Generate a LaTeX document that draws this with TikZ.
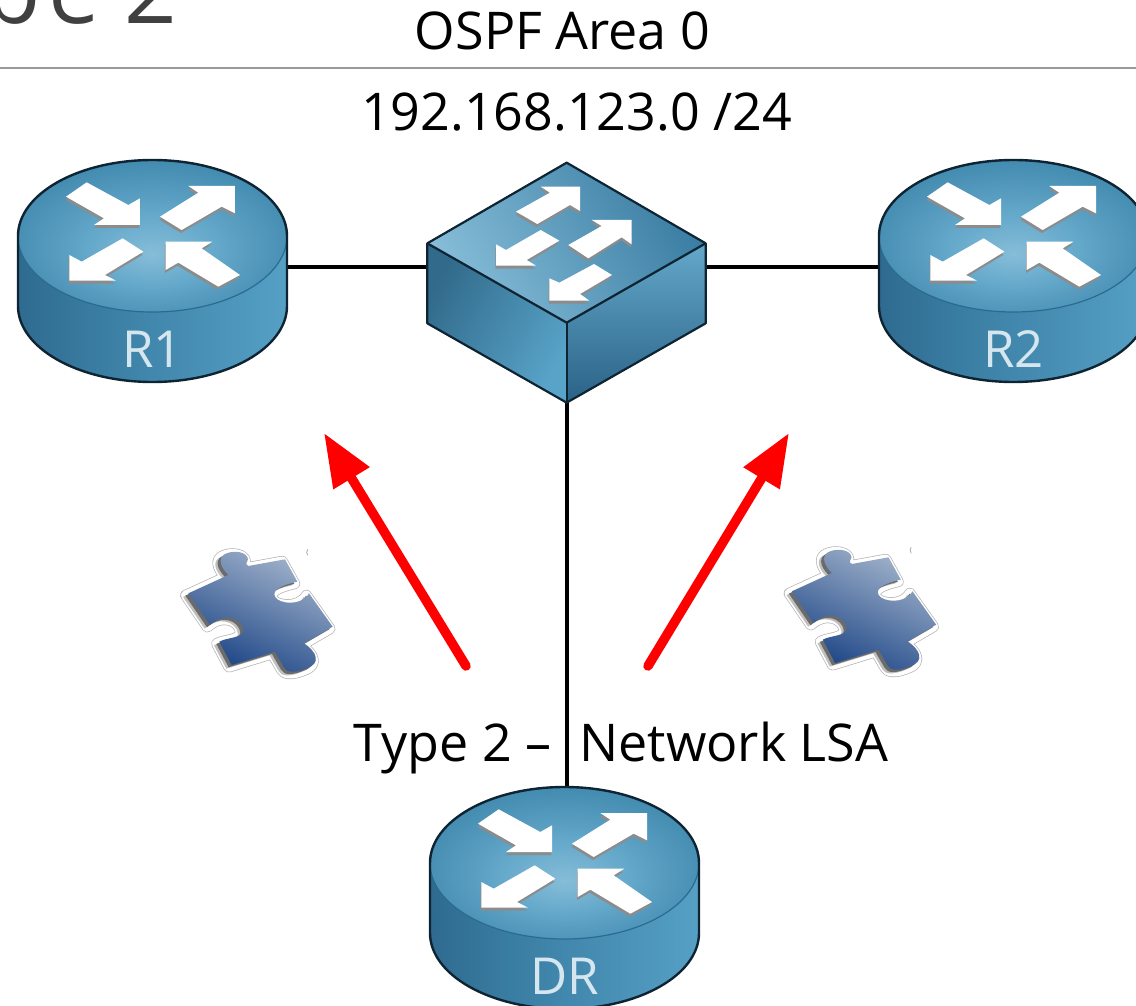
\documentclass[tikz,border=0pt]{standalone}
\usepackage{fontspec}
\setmainfont{Open Sans}
\newfontfamily\titlefont{Open Sans}
\usetikzlibrary{arrows.meta}
\definecolor{rtA}{HTML}{86BDD8}
\definecolor{rtB}{HTML}{64A8CA}
\definecolor{rtC}{HTML}{3E86AC}
\definecolor{rsA}{HTML}{2A6286}
\definecolor{rsB}{HTML}{3A7DA3}
\definecolor{rsC}{HTML}{58A3C8}
\definecolor{rsD}{HTML}{4A94BA}
\definecolor{rsE}{HTML}{2E7297}
\definecolor{edgeDark}{HTML}{0F2433}
\definecolor{edgeBlue}{HTML}{2A6C90}
\definecolor{arrowShade}{HTML}{8C8C8C}
\definecolor{labelLight}{HTML}{D5E6EE}
\definecolor{puzzleLight}{HTML}{A3B4CC}
\definecolor{puzzleDark}{HTML}{1C4586}
\definecolor{titleInk}{HTML}{404040}
\pgfdeclareradialshading{routertop}{\pgfpoint{0bp}{-6bp}}{color(0bp)=(rtA);color(12bp)=(rtB);color(30bp)=(rtC);color(50bp)=(rtC)}
\pgfdeclarehorizontalshading{routerside}{100bp}{color(0bp)=(rsA);color(18bp)=(rsA);color(40bp)=(rsB);color(78bp)=(rsC);color(82bp)=(rsD);color(100bp)=(rsE)}
\tikzset{
  lbl/.style={font=\fontsize{52pt}{52pt}\selectfont,text=black,inner sep=0pt},
  rlabel/.style={font=\fontsize{51pt}{51pt}\selectfont,text=labelLight,inner sep=0pt},
  link/.style={draw=black,line width=3.8pt},
  redarrow/.style={draw=red,line width=9.5pt,line cap=round,-{Triangle[length=53pt,width=40pt,fill=red]}},
  faceedge/.style={draw=edgeDark,line width=2.2pt,line join=round},
  arrowshadow/.style={fill=arrowShade},
  arrowwhite/.style={fill=white},
  placeholder/.style={inner sep=0pt,minimum width=269pt,minimum height=223pt}
}
\newcommand{\flatarrow}[1]{%
  \fill[arrowshadow,shift={(-2,9)}] #1 -- cycle;
  \fill[arrowwhite] #1 -- cycle;}
\newcommand{\routerart}[3]{%
\begin{scope}[shift={(#1,#2)}]
  \shade[shading=routerside]
    (-134.5,0) -- (-134.5,70) .. controls (-134.5,112) and (-74.3,146) .. (0,146)
    .. controls (74.3,146) and (134.5,112) .. (134.5,70) -- (134.5,0) -- cycle;
  \shade[shading=routertop] (0,0) ellipse [x radius=134.5pt,y radius=76pt];
  \draw[edgeBlue,line width=1.2pt] (0,0) ellipse [x radius=134.5pt,y radius=76pt];
  \draw[edgeDark,line width=2.4pt]
    (-134.5,70) .. controls (-134.5,112) and (-74.3,146) .. (0,146)
    .. controls (74.3,146) and (134.5,112) .. (134.5,70) -- (134.5,0)
    .. controls (134.5,-42) and (74.3,-76) .. (0,-76)
    .. controls (-74.3,-76) and (-134.5,-42) .. (-134.5,0) -- cycle;
  \begin{scope}[shift={(-152.5,-86)},x=0.33333pt,y=-0.33333pt]
    \flatarrow{(260,97) -- (198,140) -- (312,205) -- (282,225) -- (420,225) -- (420,145) -- (385,165)}
    \flatarrow{(480,200) -- (545,240) -- (665,170) -- (705,190) -- (705,108) -- (565,108) -- (595,128)}
    \flatarrow{(368,265) -- (430,305) -- (315,375) -- (348,392) -- (208,392) -- (208,315) -- (245,335)}
    \flatarrow{(720,375) -- (655,410) -- (535,338) -- (497,360) -- (497,275) -- (637,275) -- (605,295)}
  \end{scope}
  \node[rlabel,anchor=base] (#3label) at (0,131) {#3};
\end{scope}}
\newcommand{\puzzlepath}{(85,190) -- (205,135) .. controls (175,105) and (175,78) .. (200,70)
  .. controls (225,60) and (262,66) .. (264,88) .. controls (264,98) and (252,100) .. (265,108)
  -- (375,88) -- (412,155) .. controls (365,165) and (335,180) .. (345,200)
  .. controls (355,222) and (425,230) .. (447,190) -- (518,290) -- (432,340)
  .. controls (470,365) and (485,400) .. (440,415) .. controls (410,428) and (380,430) .. (372,412)
  -- (345,365) -- (215,405) -- (178,335) .. controls (200,322) and (250,325) .. (250,300)
  .. controls (245,265) and (195,245) .. (150,285) -- cycle}
\newcommand{\puzzleart}[2]{%
\begin{scope}[shift={(#1,#2)},x=0.33333pt,y=-0.33333pt]
  \draw[gray!60,line width=11pt,line join=round,shift={(-8,6)}] \puzzlepath;
  \draw[white,line width=9.6pt,line join=round,fill=white,shift={(-8,6)}] \puzzlepath;
  \fill[black!25,shift={(-16,11)}] \puzzlepath;
  \fill[black!58,shift={(-9,7)}] \puzzlepath;
  \shade[top color=puzzleLight,bottom color=puzzleDark,shading angle=-25] \puzzlepath;
  \draw[gray!70,line width=0.8pt] (443,58) .. controls (439,64) and (439,70) .. (443,76);
\end{scope}}
\begin{document}
\begin{tikzpicture}[x=1pt,y=-1pt]
\useasboundingbox (0,0) rectangle (1136,1006);
\clip (0,0) rectangle (1136,1006);
\node[placeholder] (r1) at (152.5,271.5) {};
\node[placeholder] (r2) at (1013.5,271.5) {};
\node[placeholder] (dr) at (564.5,898.5) {};
\node[inner sep=0pt,minimum width=278pt,minimum height=240pt] (sw) at (566.7,282.7) {};
\coordinate (r1port) at (287,267);
\coordinate (swleft) at (427,267);
\coordinate (swright) at (706,267);
\coordinate (r2port) at (879,267);
\coordinate (swbottom) at (566.7,402);
\coordinate (drport) at (566.7,790);
\coordinate (tailA) at (466,666);
\coordinate (tipA) at (324,433);
\coordinate (tailB) at (648,666);
\coordinate (tipB) at (789,433);
\node[font=\titlefont\fontsize{92pt}{92pt}\selectfont,text=titleInk,anchor=base east,inner sep=0pt] (titlepart) at (177,24) {p\kern8pt e 2};
\coordinate (ruleL) at (0,68);
\coordinate (ruleR) at (1136,68);
\draw[gray!80,line width=1.4pt] (ruleL) -- (ruleR);
\draw[link] (r1port) -- (swleft);
\draw[link] (swright) -- (r2port);
\draw[link] (swbottom) -- (drport);
\routerart{152.5}{236}{R1}
\routerart{1013.5}{236}{R2}
\routerart{564.5}{863}{DR}
\begin{scope}[shift={(410,150)},x=0.33333pt,y=-0.33333pt]
  \shade[left color=rsB!85!black,right color=rsC,shading angle=60]
    (52,280) -- (470,518) -- (470,758) -- (52,520) -- cycle;
  \shade[top color=rtB,bottom color=rsA] (470,518) -- (887,280) -- (887,520) -- (470,758) -- cycle;
  \shade[top color=rtA,bottom color=rsB,shading angle=120] (470,38) -- (887,280) -- (470,518) -- (52,280) -- cycle;
  \draw[faceedge] (470,38) -- (887,280) -- (887,520) -- (470,758) -- (52,520) -- (52,280) -- cycle;
  \draw[faceedge] (52,280) -- (470,518) -- (887,280);
  \draw[faceedge] (470,518) -- (470,758);
  \flatarrow{(318,185) -- (382,222) -- (480,165) -- (510,183) -- (510,110) -- (392,110) -- (420,128)}
  \flatarrow{(475,285) -- (535,325) -- (635,262) -- (665,283) -- (665,210) -- (545,210) -- (575,228)}
  \flatarrow{(392,240) -- (448,272) -- (350,330) -- (378,347) -- (258,347) -- (258,283) -- (288,300)}
  \flatarrow{(552,342) -- (606,375) -- (510,432) -- (538,452) -- (418,452) -- (418,385) -- (448,398)}
\end{scope}
\puzzleart{160}{530}
\puzzleart{763.5}{528}
\draw[redarrow] (tailA) -- (tipA);
\draw[redarrow] (tailB) -- (tipB);
\node[lbl,anchor=base] (area) at (562.5,50) {OSPF Area 0};
\node[lbl,anchor=base] (subnet) at (576.5,131) {192.168.123.0 /24};
\node[lbl,anchor=base] (lsa) at (621,761) {Type 2 –\hspace{28pt}Network LSA};
\end{tikzpicture}
\end{document}
